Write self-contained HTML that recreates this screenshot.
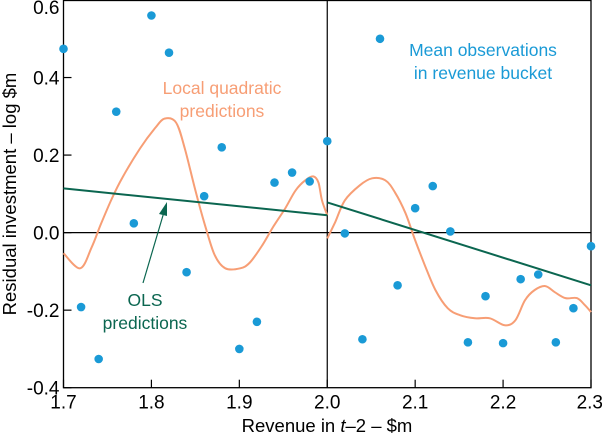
<!DOCTYPE html>
<html><head><meta charset="utf-8"><style>
html,body{margin:0;padding:0;background:#fff;}
svg text{font-family:"Liberation Sans",Arial,sans-serif;}
</style></head><body>
<svg id="chart" width="602" height="437" viewBox="0 0 602 437" xmlns="http://www.w3.org/2000/svg"></svg>
<script>
const xTicks=[1.7,1.8,1.9,2.0,2.1,2.2,2.3];
const yTicks=[-0.4,-0.2,0.0,0.2,0.4,0.6];
const yTickLabels=["-0.4","-0.2","0.0","0.2","0.4","0.6"];
const xTickLabels=["1.7","1.8","1.9","2.0","2.1","2.2","2.3"];
const obsX=[1.70,1.72,1.74,1.76,1.78,1.80,1.82,1.84,1.86,1.88,1.90,1.92,1.94,1.96,1.98,2.00,2.02,2.04,2.06,2.08,2.10,2.12,2.14,2.16,2.18,2.20,2.22,2.24,2.26,2.28,2.30];
const obsY=[0.474,-0.192,-0.326,0.312,0.024,0.56,0.464,-0.102,0.094,0.22,-0.30,-0.23,0.129,0.155,0.132,0.236,-0.002,-0.275,0.50,-0.136,0.063,0.12,0.003,-0.283,-0.164,-0.285,-0.12,-0.108,-0.283,-0.195,-0.035];
const lqLeftX=[1.700,1.719,1.732,1.742,1.755,1.767,1.787,1.804,1.815,1.828,1.838,1.850,1.861,1.872,1.884,1.901,1.912,1.926,1.938,1.952,1.964,1.975,1.984,1.990,1.994,2.000];
const lqLeftY=[-0.053,-0.092,-0.038,0.019,0.088,0.142,0.217,0.269,0.294,0.284,0.217,0.109,0.019,-0.058,-0.092,-0.092,-0.077,-0.033,0.013,0.062,0.109,0.135,0.145,0.129,0.083,0.045];
const lqRightX=[2.000,2.009,2.020,2.037,2.051,2.066,2.077,2.089,2.100,2.111,2.123,2.137,2.151,2.168,2.185,2.202,2.214,2.225,2.236,2.248,2.259,2.271,2.284,2.293,2.300];
const lqRightY=[-0.015,0.027,0.083,0.122,0.140,0.135,0.104,0.050,-0.020,-0.084,-0.148,-0.195,-0.213,-0.221,-0.221,-0.239,-0.226,-0.174,-0.148,-0.138,-0.154,-0.169,-0.169,-0.187,-0.205];
const olsLeftX=[1.7,2.0];
const olsLeftY=[0.114,0.045];
const olsRightX=[2.0,2.3];
const olsRightY=[0.078,-0.136];

const L=63.5,R=591,T=0,B=387.7;
const sx=v=>L+(v-1.7)/0.6*(R-L);
const sy=v=>B-(v+0.4)/1.0*(B-T);
const svg=document.getElementById('chart');
const NS='http://www.w3.org/2000/svg';
function mk(tag,attrs,parent){const e=document.createElementNS(NS,tag);for(const k in attrs)e.setAttribute(k,attrs[k]);(parent||svg).appendChild(e);return e;}

let f=mk('rect',{x:L,y:T+0.5,width:R-L,height:B-T-0.5,fill:'none',stroke:'#000','stroke-width':1.3});


let z=mk('line',{x1:L,x2:R,y1:sy(0),y2:sy(0),stroke:'#000','stroke-width':1.2});


let v=mk('line',{x1:sx(2.0),x2:sx(2.0),y1:T,y2:B,stroke:'#000','stroke-width':1.2});



yTicks.forEach((t,i)=>{
  let tk=mk('line',{x1:L,x2:L+8,y1:sy(t),y2:sy(t),stroke:'#000','stroke-width':1.2});
  
  
  let tx=mk('text',{x:L-4,y:sy(t)+(i===yTicks.length-1?14:7),'text-anchor':'end','font-size':19,fill:'#000'});
  tx.textContent=yTickLabels[i];
  
  
});
xTicks.forEach((t,i)=>{
  let tk=mk('line',{x1:sx(t),x2:sx(t),y1:B,y2:B-8,stroke:'#000','stroke-width':1.2});
  
  
  let anchor=i===xTicks.length-1?'end':'middle';
  let xx=i===xTicks.length-1?603:sx(t);
  let tx=mk('text',{x:xx,y:B+21,'text-anchor':anchor,'font-size':19,fill:'#000'});
  tx.textContent=xTickLabels[i];
  
  
});

function smooth(xs,ys){
  const p=xs.map((x,i)=>[sx(x),sy(ys[i])]);
  let d='M'+p[0][0].toFixed(1)+','+p[0][1].toFixed(1);
  for(let i=0;i<p.length-1;i++){
    const p0=p[i-1]||p[i],p1=p[i],p2=p[i+1],p3=p[i+2]||p2;
    const c1=[p1[0]+(p2[0]-p0[0])/6,p1[1]+(p2[1]-p0[1])/6];
    const c2=[p2[0]-(p3[0]-p1[0])/6,p2[1]-(p3[1]-p1[1])/6];
    d+=' C'+c1.map(n=>n.toFixed(1))+' '+c2.map(n=>n.toFixed(1))+' '+p2.map(n=>n.toFixed(1));
  }
  return d;
}
function pathFrom(xs,ys){return xs.map((x,i)=>(i?'L':'M')+sx(x).toFixed(1)+','+sy(ys[i]).toFixed(1)).join(' ');}
let p1=mk('path',{d:smooth(lqLeftX,lqLeftY),fill:'none',stroke:'#f79e75','stroke-width':2,'stroke-linejoin':'round'});


let p2=mk('path',{d:smooth(lqRightX,lqRightY),fill:'none',stroke:'#f79e75','stroke-width':2,'stroke-linejoin':'round'});


let o1=mk('path',{d:pathFrom(olsLeftX,olsLeftY),fill:'none',stroke:'#0b6650','stroke-width':2});


let o2=mk('path',{d:pathFrom(olsRightX,olsRightY),fill:'none',stroke:'#0b6650','stroke-width':2});



obsX.forEach((x,i)=>{
  let c=mk('circle',{cx:sx(x),cy:sy(obsY[i]),r:4.3,fill:'#1a9ad6'});
  
  
});

function label(x,y,lines,color,name){
  let t=mk('text',{x:x,y:y,'text-anchor':'middle','font-size':17.5,fill:color});
  
  
  lines.forEach((s,i)=>{let ts=mk('tspan',{x:x,dy:i?23:0},t);ts.textContent=s;});
}
label(222,94,['Local quadratic','predictions'],'#f79e75','local-quadratic-label');
label(483,56,['Mean observations','in revenue bucket'],'#1a9ad6','mean-observations-label');
label(145,306,['OLS','predictions'],'#0b6650','ols-label');
let ar=mk('line',{x1:143,y1:283,x2:164,y2:212,stroke:'#0b6650','stroke-width':1.2});


let ah=mk('polygon',{points:'167,202 159,214 167,216',fill:'#0b6650'});



let xt=mk('text',{x:327,y:432,'text-anchor':'middle','font-size':18.5,fill:'#000'});


xt.innerHTML='Revenue in <tspan font-style="italic">t</tspan>–2 – $m';
let yt=mk('text',{x:0,y:0,'text-anchor':'middle','font-size':18.5,fill:'#000',transform:'translate(16,194) rotate(-90)'});


yt.textContent='Residual investment – log $m';
</script>
</body></html>
